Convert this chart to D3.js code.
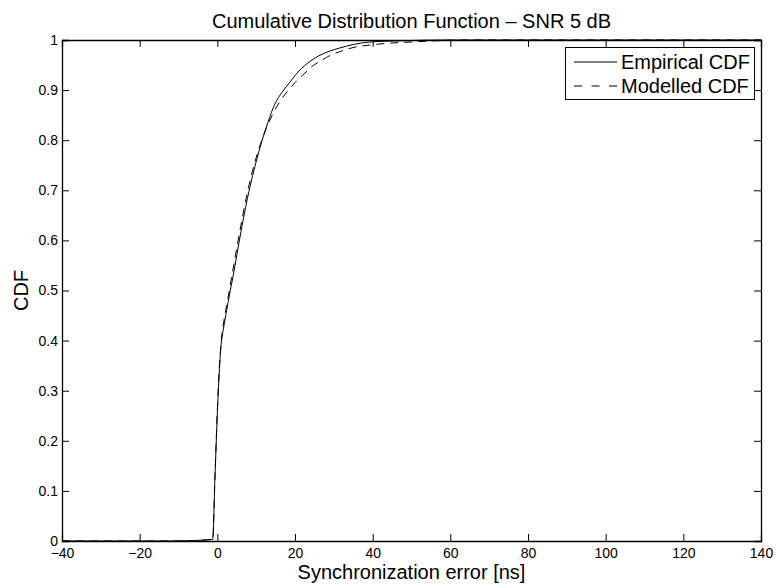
<!DOCTYPE html>
<html><head><meta charset="utf-8">
<script src="https://cdn.jsdelivr.net/npm/d3@7"></script>
<style>
html,body{margin:0;padding:0;background:#fff;}
text{font-family:"Liberation Sans",Arial,Helvetica,sans-serif;fill:#000;}
</style></head>
<body><svg id="chart" width="777" height="588"></svg>
<script>
const title = "Cumulative Distribution Function \u2013 SNR 5 dB";
const xLabel = "Synchronization error [ns]";
const yLabel = "CDF";
const xTicks = [-40, -20, 0, 20, 40, 60, 80, 100, 120, 140];
const yTicks = [0, 0.1, 0.2, 0.3, 0.4, 0.5, 0.6, 0.7, 0.8, 0.9, 1];
const seriesNames = ["Empirical CDF", "Modelled CDF"];

const empiricalX = [-40, -12, -1.2, -0.6, 0.2, 0.9, 1.6, 2.4, 3.2, 4.1, 5, 5.8, 7, 8.5, 10.8, 13, 14.8, 16.7, 18.7, 21, 23.8, 26, 29, 31.5, 35, 39.3, 45, 50, 58, 140];
const empiricalY = [0, 0, 0.003, 0.13, 0.29, 0.385, 0.425, 0.46, 0.495, 0.53, 0.57, 0.605, 0.655, 0.71, 0.78, 0.835, 0.872, 0.896, 0.916, 0.938, 0.957, 0.968, 0.978, 0.984, 0.991, 0.996, 0.998, 0.999, 1, 1];

const modelX = [-40, -12, -1.2, -0.6, 0.2, 0.9, 1.6, 2.4, 3.2, 4.1, 5, 6, 8, 10, 12, 14, 16, 18, 20, 22, 24.7, 27, 29, 32, 35, 39.3, 45, 50, 55, 63, 140];
const modelY = [0, 0, 0.003, 0.13, 0.30, 0.39, 0.435, 0.47, 0.505, 0.545, 0.585, 0.627, 0.705, 0.765, 0.812, 0.848, 0.876, 0.897, 0.915, 0.93, 0.949, 0.96, 0.969, 0.978, 0.985, 0.99, 0.994, 0.996, 0.998, 1, 1];

const svg = d3.select("#chart");
const L = 62, R = 761, T = 40, B = 541;
const x = d3.scaleLinear().domain([-40, 140]).range([L, R]);
const y = d3.scaleLinear().domain([0, 1]).range([B, T]);

const tickLen = 7;
const fmtX = d => d < 0 ? "\u2212" + Math.abs(d) : String(d);
const fmtY = d => String(d);

// axes
const gB = svg.append("g").attr("transform", `translate(0,${B})`)
  .call(d3.axisBottom(x).tickValues(xTicks).tickSize(-tickLen).tickPadding(7).tickFormat(fmtX));
const gT = svg.append("g").attr("transform", `translate(0,${T})`)
  .call(d3.axisTop(x).tickValues(xTicks).tickSize(-tickLen).tickFormat(""));
const gL = svg.append("g").attr("transform", `translate(${L},0)`)
  .call(d3.axisLeft(y).tickValues(yTicks).tickSize(-tickLen).tickPadding(4).tickFormat(fmtY));
const gR = svg.append("g").attr("transform", `translate(${R},0)`)
  .call(d3.axisRight(y).tickValues(yTicks).tickSize(-tickLen).tickFormat(""));
[gB, gT, gL, gR].forEach(g => {
  g.select(".domain").attr("stroke", "#000").attr("stroke-width", 1.3);
  g.selectAll(".tick line").attr("stroke", "#000").attr("stroke-width", 1);
  g.selectAll(".tick text").attr("font-size", 14).attr("font-family", "Liberation Sans, Arial, sans-serif").attr("fill", "#000");
});

// lines
const line = d3.line().x(d => x(d[0])).y(d => y(d[1])).curve(d3.curveMonotoneX);
const empData = empiricalX.map((v, i) => [v, empiricalY[i]]);
const modData = modelX.map((v, i) => [v, modelY[i]]);
svg.append("path").datum(empData).attr("d", line)
  .attr("fill", "none").attr("stroke", "#000").attr("stroke-width", 1);
svg.append("path").datum(modData).attr("d", line)
  .attr("fill", "none").attr("stroke", "#000").attr("stroke-width", 1).attr("stroke-dasharray", "8,6");

// title & labels
svg.append("text").attr("x", (L + R) / 2).attr("y", 28).attr("text-anchor", "middle")
  .attr("font-size", 20).text(title);
svg.append("text").attr("x", (L + R) / 2).attr("y", 579).attr("text-anchor", "middle")
  .attr("font-size", 20).text(xLabel);
svg.append("text").attr("transform", `translate(28,${(T + B) / 2}) rotate(-90)`).attr("text-anchor", "middle")
  .attr("font-size", 20).text(yLabel);

// legend
const lg = svg.append("g");
lg.append("rect").attr("x", 565.5).attr("y", 47.5).attr("width", 189).attr("height", 52)
  .attr("fill", "#fff").attr("stroke", "#000").attr("stroke-width", 1);
const rows = [{name: seriesNames[0], dash: null, yy: 62}, {name: seriesNames[1], dash: "8,9.5", yy: 86}];
rows.forEach(r => {
  lg.append("line").attr("x1", 574).attr("x2", 617).attr("y1", r.yy).attr("y2", r.yy)
    .attr("stroke", "#000").attr("stroke-width", 1).attr("stroke-dasharray", r.dash);
  lg.append("text").attr("x", 621).attr("y", r.yy + 7).attr("font-size", 20).text(r.name);
});
</script></body></html>
